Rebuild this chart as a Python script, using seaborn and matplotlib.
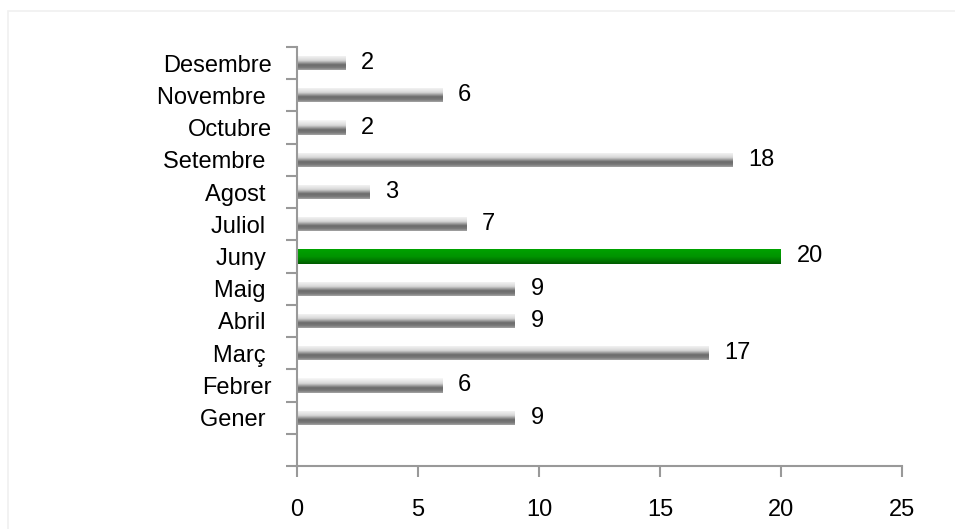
import numpy as np
import pandas as pd
import seaborn as sns
import matplotlib.pyplot as plt
from matplotlib.colors import LinearSegmentedColormap
from matplotlib.patches import Rectangle

months = ["Gener", "Febrer", "Març", "Abril", "Maig", "Juny",
          "Juliol", "Agost", "Setembre", "Octubre", "Novembre", "Desembre"]
labels = ["Gener ", "Febrer", "Març ", "Abril ", "Maig ", "Juny ",
          "Juliol ", "Agost ", "Setembre ", "Octubre", "Novembre ", "Desembre"]
values = [9, 6, 17, 9, 9, 20, 7, 3, 18, 2, 6, 2]
highlight = "Juny"

df = pd.DataFrame({"month": months, "value": values})
df["pos"] = np.arange(len(months))

sns.set_theme(style="white")
plt.rcParams["font.family"] = ["Liberation Sans", "DejaVu Sans"]
plt.rcParams["text.color"] = "black"
plt.rcParams["xtick.color"] = "black"
plt.rcParams["ytick.color"] = "black"

fig = plt.figure(figsize=(9.55, 5.29), dpi=100)
ax = fig.add_axes([297 / 955, 1 - 466 / 529, 605 / 955, 419 / 529])

# faint outer frame
fig.patches.append(Rectangle((8 / 955, -0.1), 1.2, 1 - 11 / 529 + 0.1,
                             transform=fig.transFigure, fill=False,
                             edgecolor="#f0f0f0", linewidth=1.2, zorder=0))

bar_h = 0.44
sns.barplot(data=df, x="value", y="pos", orient="h", native_scale=True,
            width=bar_h, color="#888888", linewidth=0, ax=ax)

gray_cmap = LinearSegmentedColormap.from_list(
    "g", [(0, "#f8f8f8"), (0.35, "#d8d8d8"), (0.65, "#6a6a6a"),
          (0.85, "#7a7a7a"), (1, "#a4a4a4")])
green_cmap = LinearSegmentedColormap.from_list(
    "gr", [(0, "#00a200"), (0.5, "#009400"), (0.85, "#006f00"), (1, "#005a00")])

grad = np.linspace(0, 1, 64).reshape(-1, 1)
for patch, m in zip(ax.patches, months):
    x0, y0 = patch.get_x(), patch.get_y()
    w, h = patch.get_width(), patch.get_height()
    cmap = green_cmap if m == highlight else gray_cmap
    im = ax.imshow(grad, cmap=cmap, aspect="auto",
                   extent=(x0, x0 + w, y0, y0 + h), origin="upper",
                   interpolation="bilinear", zorder=2)
    im.set_clip_path(patch)
    patch.set_alpha(0)

for p, v in zip(df["pos"], df["value"]):
    ax.text(v + 0.65, p, str(v), va="center", ha="left", fontsize=17, color="black")

ax.set_xlim(0, 25)
ax.set_ylim(-1.5, 11.5)
ax.set_xticks(range(0, 26, 5))
ax.set_yticks(np.arange(-1.5, 12, 1))
ax.set_yticklabels([])
ax.set_yticks(df["pos"], labels, minor=True)
ax.tick_params(axis="y", which="minor", left=False, length=0, pad=18, labelsize=17)
ax.tick_params(axis="y", which="major", left=True, length=8, width=1.5,
               color="#999999", direction="out")
ax.tick_params(axis="x", bottom=True, length=8, width=1.5, color="#999999",
               direction="out", pad=16, labelsize=17)
ax.set_xlabel("")
ax.set_ylabel("")
for s in ["top", "right"]:
    ax.spines[s].set_visible(False)
for s in ["left", "bottom"]:
    ax.spines[s].set_color("#999999")
    ax.spines[s].set_linewidth(1.5)

fig.savefig("out.png", dpi=100)
plt.close(fig)
